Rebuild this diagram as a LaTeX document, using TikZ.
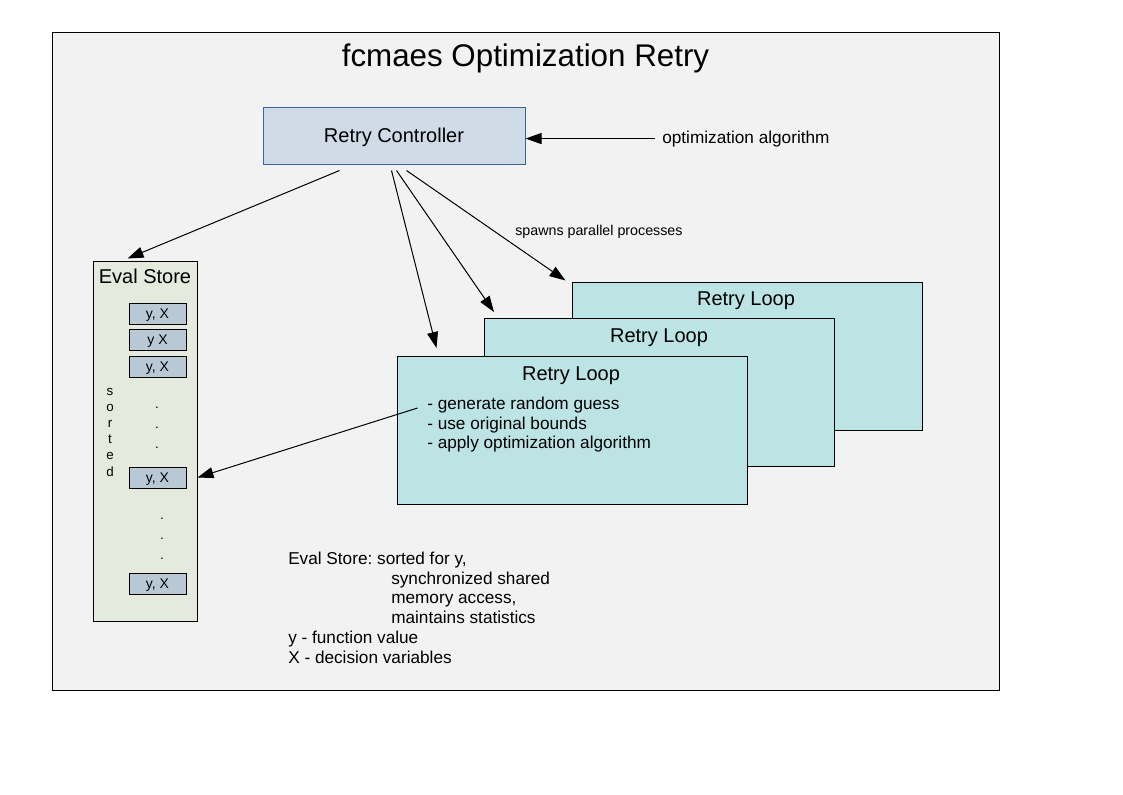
\documentclass[tikz,border=0pt]{standalone}
\usepackage{fontspec}
\setmainfont{Liberation Sans}
\usetikzlibrary{arrows.meta,calc}
\frenchspacing
\definecolor{bgc}{HTML}{F2F2F2}
\definecolor{ctrlfill}{HTML}{CFDBE6}
\definecolor{ctrlline}{HTML}{3465A4}
\definecolor{storefill}{HTML}{E4EADE}
\definecolor{itemfill}{HTML}{B8C8D4}
\definecolor{loopfill}{HTML}{BCE4E4}
\tikzset{
  frame/.style={draw=black, fill=bgc, line width=0.75pt, inner sep=0pt},
  ctrlbox/.style={draw=ctrlline, fill=ctrlfill, line width=0.75pt, inner sep=0pt,
    minimum width=196.5pt, minimum height=42.75pt, text height=10.7pt, text depth=0pt,
    font=\fontsize{15}{18}\selectfont},
  storebox/.style={draw=black, fill=storefill, line width=0.75pt, inner sep=0pt,
    minimum width=78pt, minimum height=270pt},
  itembox/.style={draw=black, fill=itemfill, line width=0.75pt, inner sep=0pt,
    minimum width=42.75pt, minimum height=15.75pt, text height=6.8pt, text depth=0pt,
    font=\fontsize{10.5}{12}\selectfont},
  loopbox/.style={draw=black, fill=loopfill, line width=0.75pt, inner sep=0pt,
    minimum width=262.5pt, minimum height=111pt},
  bigtitle/.style={anchor=base, inner sep=0pt, font=\fontsize{15}{18}\selectfont},
  bodytext/.style={anchor=base west, inner sep=0pt, font=\fontsize{12.9}{15}\selectfont},
  smalltext/.style={anchor=base west, inner sep=0pt, font=\fontsize{10.7}{13}\selectfont},
  dotmark/.style={anchor=base, inner sep=0pt, font=\fontsize{10}{12}\selectfont},
  arr/.style={line width=0.75pt, -{Triangle[length=12pt, width=8.25pt]}},
}
\begin{document}
\begin{tikzpicture}[x=0.75pt, y=-0.75pt]
\useasboundingbox (0,0) rectangle (1123,794);
% frame
\node[frame, minimum width=710.25pt, minimum height=493.5pt] (frm) at (525.5,361) {};
\node[anchor=base, inner sep=0pt, font=\fontsize{23.5}{28}\selectfont] (title) at (525.5,66) {fcmaes Optimization Retry};

% controller
\node[ctrlbox] (ctrl) at (394,135.5) {Retry Controller};
\node[anchor=base west, inner xsep=5.25pt, inner ysep=0pt, font=\fontsize{12.9}{15}\selectfont] (opt) at (655,143) {optimization algorithm};
\draw[arr] (opt.west) -- (opt.west -| ctrl.east);

% eval store
\node[storebox] (store) at (145,441) {};
\node[bigtitle] (storetitle) at (145,283) {Eval Store};
\node[itembox] (it1) at (157.5,313.5) {y, X};
\node[itembox] (it2) at (157.5,339.5) {y X};
\node[itembox] (it3) at (157.5,366.5) {y, X};
\node[itembox] (it4) at (157.5,477.5) {y, X};
\node[itembox] (it5) at (157.5,583.5) {y, X};
\node[align=center, inner sep=0pt, font=\fontsize{10}{12.15}\selectfont] (sorted) at (110,432) {s\\o\\r\\t\\e\\d};
\node[dotmark] (d1) at (157,408) {.};
\node[dotmark] (d2) at (157,428) {.};
\node[dotmark] (d3) at (157,448) {.};
\node[dotmark] (d4) at (162,519) {.};
\node[dotmark] (d5) at (162,539) {.};
\node[dotmark] (d6) at (162,559) {.};

% retry loops
\node[loopbox] (loop3) at (747,356) {};
\node[bigtitle] (loop3t) at (746,305) {Retry Loop};
\node[loopbox] (loop2) at (659.5,392.5) {};
\node[bigtitle] (loop2t) at (659,342) {Retry Loop};
\node[loopbox] (loop1) at (572,430.5) {};
\node[bigtitle] (loop1t) at (571,380) {Retry Loop};
\node[bodytext] (l1a) at (427,409) {- generate random guess};
\node[bodytext] (l1b) at (427,429) {- use original bounds};
\node[bodytext] (l1c) at (427,448) {- apply optimization algorithm};

% spawn label
\node[smalltext] (spawn) at (515,235) {spawns parallel processes};

% arrows
\draw[arr] ($(ctrl.south west)+(77,6)$) -- ($(store.north west)+(35,-2)$);
\draw[arr] ($(ctrl.south west)+(129,6)$) -- ($(loop1.north west)+(40,-8)$);
\draw[arr] ($(ctrl.south west)+(134,6)$) -- ($(loop2.north west)+(10,-6)$);
\draw[arr] ($(ctrl.south west)+(144,6)$) -- ($(loop3.north west)+(-6,-1)$);
\draw[arr] ($(loop1.north west)+(21,52)$) -- (store.east |- it4);

% notes
\node[bodytext] (n1) at (288,564) {Eval Store: sorted for y,};
\node[bodytext] (n2) at (391,584) {synchronized shared};
\node[bodytext] (n3) at (391,603) {memory access,};
\node[bodytext] (n4) at (391,623) {maintains statistics};
\node[bodytext] (n5) at (288,643) {y - function value};
\node[bodytext] (n6) at (288,663) {X - decision variables};
\end{tikzpicture}
\end{document}
